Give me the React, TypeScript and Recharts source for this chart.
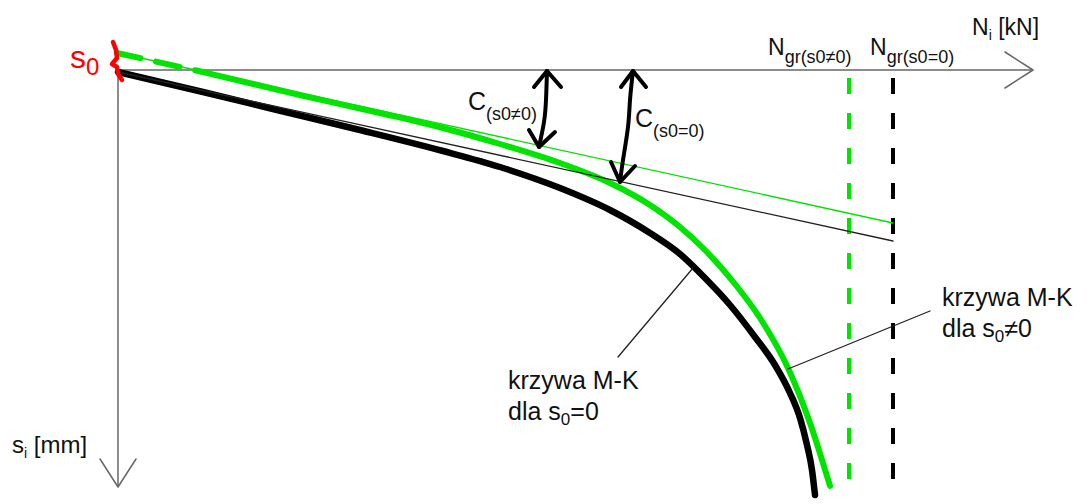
import { ComposedChart, Line, XAxis, YAxis, ReferenceLine } from 'recharts'

const W = 1087
const H = 504

// N [kN] runs right, s [mm] runs down; origin of the sketch sits at (0, 0)
const N_DOMAIN: [number, number] = [-118, 969]
const S_DOMAIN: [number, number] = [-70, 434]

const N_AXIS_END = 915
const S_AXIS_END = 417

const S0 = -17
const NGR_S0_NONZERO = 731
const NGR_S0_ZERO = 775

// M-K curve for s0 = 0
const mkZero: [number, number][] = [
  [0, 2], [85, 22], [159, 40], [242, 60], [325, 81], [382, 97], [442, 118],
  [492, 140], [532, 163], [562, 184], [587, 208], [612, 235], [637, 267],
  [657, 295], [672, 323], [682, 348], [689, 375], [694, 400], [697, 425],
]

// M-K curve for s0 != 0 (dashed start, then solid)
const mkNonZeroStart: [number, number][] = [[-1, S0], [85, 2]]
const mkNonZero: [number, number][] = [
  [85, 2], [182, 25], [262, 43], [325, 58], [382, 74], [442, 93], [492, 113],
  [532, 135], [562, 157], [587, 180], [617, 214], [642, 248], [670, 298],
  [692, 353], [712, 416],
]

// initial tangents, both ending at Ngr(s0=0)
const tangentNonZero: [number, number][] = [[0, S0], [NGR_S0_ZERO, 153]]
const tangentZero: [number, number][] = [[0, 2], [NGR_S0_ZERO, 171]]

// C double arrows
const arrowC1Shaft: [number, number][] = [[429, 1], [428, 30], [426, 52], [421, 77]]
const arrowC1Top: [number, number][] = [[416, 17], [429, 1], [443, 17]]
const arrowC1Bottom: [number, number][] = [[411, 60], [421, 77], [437, 62]]
const arrowC2Shaft: [number, number][] = [[515, 1], [512, 30], [510, 57], [505, 90], [502, 112]]
const arrowC2Top: [number, number][] = [[503, 17], [515, 1], [528, 17]]
const arrowC2Bottom: [number, number][] = [[493, 92], [502, 112], [517, 96]]

// leaders to the curve labels
const leaderZero: [number, number][] = [[575, 198], [500, 287]]
const leaderNonZero: [number, number][] = [[670, 299], [812, 241]]

// axis arrow heads
const nArrow: [number, number][] = [[887, -18], [N_AXIS_END, 0], [887, 18]]
const sArrow: [number, number][] = [[-18, 389], [0, S_AXIS_END], [18, 389]]

// s0 brace
const s0Brace: [number, number][] = [[-5, -28], [-2, -20], [-1, -12], [-6, -6], [-1, -3], [0, 4], [4, 10]]

const GREEN = '#00e400'
const AXIS = '#666'
const FONT = '"Liberation Sans", Arial, sans-serif'

const pts = (arr: [number, number][]) => arr.map(([N, s]) => ({ N, s }))

function poly(
  key: string,
  arr: [number, number][],
  stroke: string,
  width: number,
  type: 'linear' | 'monotone' | 'natural' = 'linear',
  dash?: string,
) {
  return (
    <Line
      key={key}
      data={pts(arr)}
      dataKey="s"
      type={type}
      stroke={stroke}
      strokeWidth={width}
      strokeDasharray={dash}
      strokeLinecap="round"
      strokeLinejoin="round"
      dot={false}
      activeDot={false}
      legendType="none"
      isAnimationActive={false}
    />
  )
}

function Labels() {
  return (
    <svg
      width={W}
      height={H}
      style={{ position: 'absolute', left: 0, top: 0, pointerEvents: 'none' }}
      fontFamily={FONT}
    >
      <text x={70} y={68} fill="#ff0000" fontSize={32}>
        s<tspan fontSize={24} dy={7}>0</tspan>
      </text>
      <text x={972} y={35} fontSize={23} fill="#111">
        N<tspan fontSize={14} dy={5}>i</tspan>
        <tspan dy={-5}> [kN]</tspan>
      </text>
      <text x={12} y={453} fontSize={24} fill="#111">
        s<tspan fontSize={14} dy={5}>i</tspan>
        <tspan dy={-5}> [mm]</tspan>
      </text>
      <text x={768} y={55} fontSize={23} fill="#111">
        N<tspan fontSize={18} dy={8}>gr(s0≠0)</tspan>
      </text>
      <text x={870} y={55} fontSize={23} fill="#111">
        N<tspan fontSize={18} dy={8}>gr(s0=0)</tspan>
      </text>
      <text x={468} y={110} fontSize={25} fill="#111">
        C<tspan fontSize={18} dy={10}>(s0≠0)</tspan>
      </text>
      <text x={635} y={127} fontSize={25} fill="#111">
        C<tspan fontSize={18} dy={10}>(s0=0)</tspan>
      </text>
      <text x={508} y={389} fontSize={25} fill="#111">krzywa M-K</text>
      <text x={508} y={420} fontSize={25} fill="#111">
        dla s<tspan fontSize={17} dy={5}>0</tspan>
        <tspan dy={-5}>=0</tspan>
      </text>
      <text x={942} y={306} fontSize={25} fill="#111">krzywa M-K</text>
      <text x={942} y={337} fontSize={25} fill="#111">
        dla s<tspan fontSize={17} dy={5}>0</tspan>
        <tspan dy={-5}>≠0</tspan>
      </text>
    </svg>
  )
}

export default function App() {
  return (
    <div style={{ position: 'absolute', left: 0, top: 0, width: W, height: H, background: '#fff' }}>
      <ComposedChart width={W} height={H} margin={{ top: 0, right: 0, bottom: 0, left: 0 }}>
        <XAxis dataKey="N" type="number" domain={N_DOMAIN} allowDataOverflow hide />
        <YAxis type="number" domain={S_DOMAIN} reversed allowDataOverflow hide />

        <ReferenceLine
          segment={[{ x: 0, y: 0 }, { x: N_AXIS_END, y: 0 }]}
          stroke={AXIS}
          strokeWidth={1.5}
        />
        <ReferenceLine
          segment={[{ x: 0, y: 0 }, { x: 0, y: S_AXIS_END }]}
          stroke={AXIS}
          strokeWidth={1.5}
        />
        {poly('nArrow', nArrow, AXIS, 1.5)}
        {poly('sArrow', sArrow, AXIS, 1.5)}

        <ReferenceLine
          segment={[{ x: NGR_S0_NONZERO, y: 0 }, { x: NGR_S0_NONZERO, y: 418 }]}
          stroke={GREEN}
          strokeWidth={4}
          strokeDasharray="16 19"
          strokeDashoffset={27}
        />
        <ReferenceLine
          segment={[{ x: NGR_S0_ZERO, y: 0 }, { x: NGR_S0_ZERO, y: 418 }]}
          stroke="#000"
          strokeWidth={4}
          strokeDasharray="16 19"
          strokeDashoffset={27}
        />

        {poly('mkZero', mkZero, '#000', 6.5, 'monotone')}
        {poly('mkNonZeroStart', mkNonZeroStart, GREEN, 6, 'linear', '24 16')}
        {poly('mkNonZero', mkNonZero, GREEN, 6, 'monotone')}

        {poly('tangentNonZero', tangentNonZero, GREEN, 1.3)}
        {poly('tangentZero', tangentZero, '#222', 1.3)}

        {poly('leaderZero', leaderZero, '#222', 1.3)}
        {poly('leaderNonZero', leaderNonZero, '#222', 1.3)}

        {poly('arrowC1Shaft', arrowC1Shaft, '#000', 4, 'natural')}
        {poly('arrowC1Top', arrowC1Top, '#000', 4)}
        {poly('arrowC1Bottom', arrowC1Bottom, '#000', 4)}
        {poly('arrowC2Shaft', arrowC2Shaft, '#000', 4, 'natural')}
        {poly('arrowC2Top', arrowC2Top, '#000', 4)}
        {poly('arrowC2Bottom', arrowC2Bottom, '#000', 4)}

        {poly('s0Brace', s0Brace, '#ff0000', 4.5)}
      </ComposedChart>
      <Labels />
    </div>
  )
}
